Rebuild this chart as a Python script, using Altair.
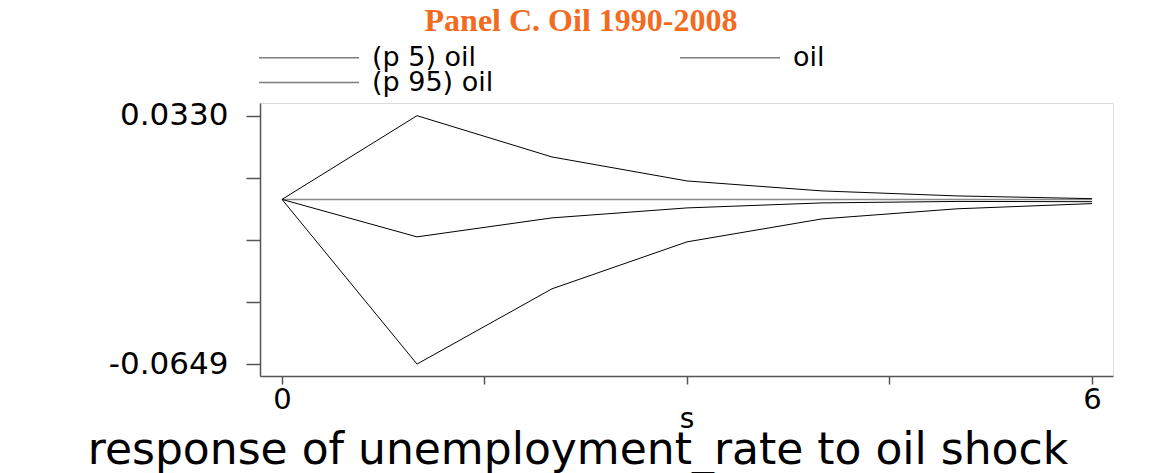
import altair as alt
import pandas as pd

# ---- data ----
steps = [0, 1, 2, 3, 4, 5, 6]
p95_oil = [0.0, 0.0330, 0.01673, 0.00728, 0.00335, 0.00138, 0.0003]
irf_oil = [0.0, -0.01476, -0.00728, -0.00335, -0.00138, -0.0008, -0.0009]
p5_oil = [0.0, -0.0649, -0.03524, -0.01673, -0.00768, -0.0037, -0.00165]
series_names = ["(p 5) oil", "oil", "(p 95) oil"]

x_ticks = [0, 1.5, 3, 4.5, 6]
x_labels = ["0", "", "", "", "6"]
y_ticks = [0.0330, 0.008525, -0.01595, -0.040425, -0.0649]
y_labels = ["0.0330", "", "", "", "-0.0649"]

title_text = "Panel C. Oil 1990-2008"
caption_text = "response of unemployment_rate to oil shock"
x_title = "s"

# ---- build table ----
rows = []
for name, vals in zip(series_names, [p5_oil, irf_oil, p95_oil]):
    for s, v in zip(steps, vals):
        rows.append({"step": s, "value": v, "series": name})
df = pd.DataFrame(rows)


def label_expr(ticks, labels):
    expr = "''"
    for t, l in reversed(list(zip(ticks, labels))):
        expr = f"abs(datum.value - ({t})) < 1e-9 ? '{l}' : ({expr})"
    return expr


FONT = "DejaVu Sans"
W, H = 853, 273
PLOT_LEFT, PLOT_TOP = 260, 103

xscale = alt.Scale(domain=[-0.163, 6.156], nice=False, zero=False)
yscale = alt.Scale(domain=[-0.0696, 0.0380], nice=False, zero=False)

x_axis = alt.Axis(
    values=x_ticks, labelExpr=label_expr(x_ticks, x_labels), title=x_title,
    grid=False, domainColor="#555555", domainWidth=1.5, tickColor="#555555",
    tickWidth=1.5, tickSize=8, labelFont=FONT, labelFontSize=29, labelColor="#000000",
    labelPadding=1, labelFlush=False, labelOverlap=False,
    titleFont=FONT, titleFontSize=28, titleFontWeight="normal", titleColor="#000000",
    titlePadding=-9,
)
y_axis = alt.Axis(
    values=y_ticks, labelExpr=label_expr(y_ticks, y_labels), title=None,
    grid=False, domainColor="#555555", domainWidth=1.5, tickColor="#555555",
    tickWidth=1.5, tickSize=14, labelFont=FONT, labelFontSize=31, labelColor="#000000",
    labelPadding=18, labelFlush=False, labelOverlap=False, labelBaseline="middle",
)

lines = alt.Chart(df).mark_line(strokeWidth=1, clip=False).encode(
    x=alt.X("step:Q", scale=xscale, axis=x_axis),
    y=alt.Y("value:Q", scale=yscale, axis=y_axis),
    color=alt.Color(
        "series:N",
        sort=series_names,
        scale=alt.Scale(domain=series_names, range=["#000000"] * 3),
        legend=alt.Legend(
            title=None, orient="none", legendX=-2, legendY=-57, columns=2,
            direction="horizontal", clipHeight=23,
            symbolType="stroke", symbolSize=10000, symbolStrokeWidth=1.5,
            symbolOpacity=0.5, labelFont=FONT, labelFontSize=27,
            labelColor="#000000", labelOffset=12, columnPadding=185,
            rowPadding=-4, labelLimit=0, padding=0,
        ),
    ),
    order="step:Q",
)

zero_line = alt.Chart(pd.DataFrame({"z": [0]})).mark_rule(
    color="#8a8a8a", strokeWidth=1.5
).encode(x=alt.datum(steps[0]), x2=alt.datum(steps[-1]), y=alt.datum(0))

title_mark = alt.Chart(pd.DataFrame({"t": [title_text]})).mark_text(
    font="Liberation Serif", fontWeight="bold", fontSize=32, color="#F26B1F",
    align="center", baseline="alphabetic",
).encode(text="t:N", x=alt.value(581 - PLOT_LEFT), y=alt.value(31 - PLOT_TOP))

caption_mark = alt.Chart(pd.DataFrame({"t": [caption_text]})).mark_text(
    font=FONT, fontSize=44, color="#000000", align="center", baseline="alphabetic",
).encode(text="t:N", x=alt.value(578 - PLOT_LEFT), y=alt.value(464 - PLOT_TOP))

chart = alt.layer(zero_line, lines, title_mark, caption_mark).properties(
    width=W, height=H,
    autosize=alt.AutoSizeParams(type="none"),
    padding={"left": 252, "top": 95, "right": 49, "bottom": 102},
).configure_view(strokeWidth=0).configure(background="#ffffff")

chart.save("out.html", embed_options={"renderer": "svg", "actions": False})
